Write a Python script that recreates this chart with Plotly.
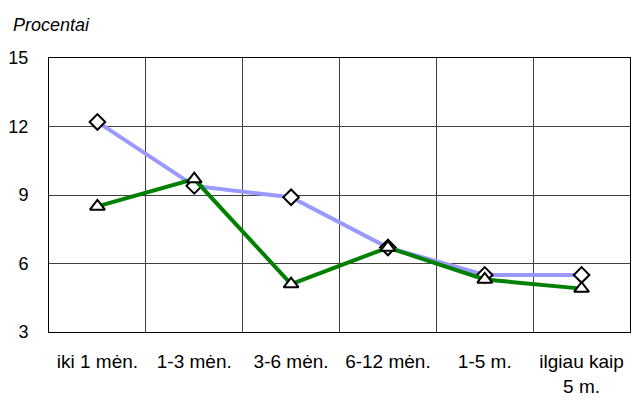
import plotly.graph_objects as go

categories = ["iki 1 mėn.", "1-3 mėn.", "3-6 mėn.", "6-12 mėn.", "1-5 m.", "ilgiau kaip<br>5 m."]
series_a = [12.2, 9.4, 8.9, 6.7, 5.5, 5.5]
series_b = [8.5, 9.7, 5.1, 6.7, 5.3, 4.9]
y_ticks = [3, 6, 9, 12, 15]

fig = go.Figure()
fig.add_trace(go.Scatter(
    x=categories, y=series_a, mode="lines+markers",
    line=dict(color="#9999FF", width=4),
    marker=dict(symbol="diamond", size=12, color="white", line=dict(color="black", width=2)),
    showlegend=False))
fig.add_trace(go.Scatter(
    x=categories, y=series_b, mode="lines+markers",
    line=dict(color="#008000", width=4),
    marker=dict(symbol="triangle-up", size=13, color="white", line=dict(color="black", width=2)),
    showlegend=False))

fig.update_layout(
    width=634, height=410,
    margin=dict(l=41, r=12, t=50, b=86),
    paper_bgcolor="white", plot_bgcolor="white",
    font=dict(family="Liberation Sans, Arial, sans-serif", size=18, color="black"),
    xaxis=dict(type="category", tickson="boundaries", showgrid=True, gridcolor="#404040", gridwidth=1,
               ticks="", ticklabelstandoff=12, showline=True, linecolor="black", linewidth=1, mirror=True,
               range=[-0.5, 5.5], tickfont=dict(size=19), automargin=False),
    yaxis=dict(range=[3, 15], tickvals=y_ticks, showgrid=True, gridcolor="#404040", gridwidth=1,
               ticks="", ticklabelstandoff=16, showline=True, linecolor="black", linewidth=1, mirror=True,
               zeroline=False, tickfont=dict(size=18), automargin=False),
    annotations=[dict(text="<i>Procentai</i>", xref="paper", yref="paper", x=-38/581, y=1+33/274,
                      xanchor="left", yanchor="middle", showarrow=False, font=dict(size=18))],
)
fig.write_html("out.html")
